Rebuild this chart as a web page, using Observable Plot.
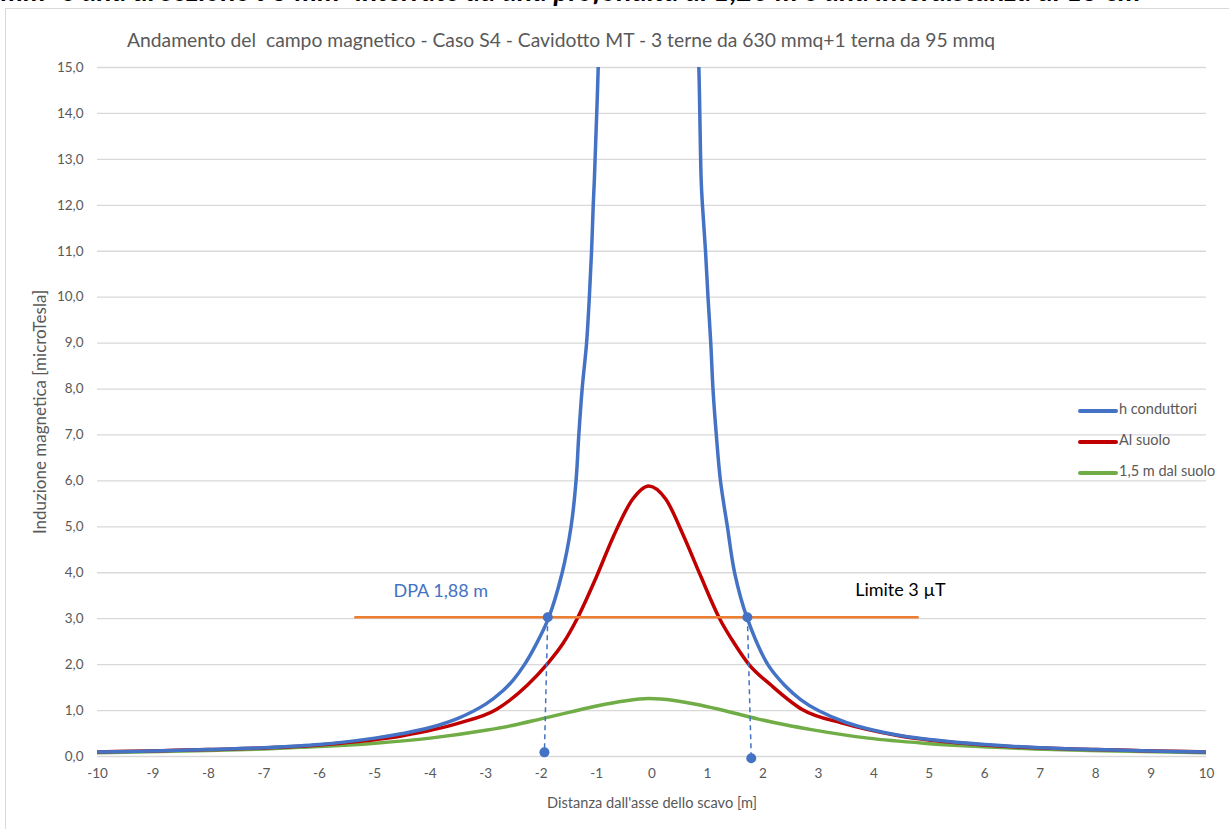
<!DOCTYPE html>
<html><head><meta charset="utf-8">
<script src="https://cdn.jsdelivr.net/npm/d3@7"></script>
<script src="https://cdn.jsdelivr.net/npm/@observablehq/plot@0.6"></script>
<style>
body{margin:0;background:#fff;font-family:Lato,"Open Sans",sans-serif;}
#page{position:relative;width:1229px;height:829px;overflow:hidden;background:#fff}
#toptext{position:absolute;left:0;top:0;width:1229px;height:8px;overflow:hidden;}
#toptext span{position:absolute;left:1px;top:-24px;font:italic bold 28.3px/28px Lato,sans-serif;white-space:nowrap;color:#000}
#frame{position:absolute;left:5px;top:8px;width:1300px;height:900px;border-left:1.5px solid #d9d9d9;border-top:1.5px solid #d9d9d9;box-sizing:border-box}
#title{position:absolute;left:127px;top:28px;font-size:19.3px;color:#595959;white-space:pre}
#chart{position:absolute;left:0;top:0}
.leg{position:absolute;left:1078px;height:18px;font-size:14.5px;color:#595959;white-space:nowrap}
.leg i{position:absolute;left:0;top:8px;width:40px;height:4px;border-radius:2px}
.leg span{position:absolute;left:41px;top:-1px}
</style></head>
<body><div id="page">
<div id="frame"></div>
<div id="toptext"><span>mm² e una di sezione 95 mm² interrate ad una profondità di 1,20 m e una interdistanza di 15 cm</span></div>
<div id="title"></div>
<div id="chart"></div>
</div>
<script>
const titleText = "Andamento del  campo magnetico - Caso S4 - Cavidotto MT - 3 terne da 630 mmq+1 terna da 95 mmq";
const xLabel = "Distanza dall'asse dello scavo [m]";
const yLabel = "Induzione magnetica [microTesla]";
const xTicks = d3.range(-10, 11, 1);
const yTicks = d3.range(0, 16, 1);
const seriesNames = ["h conduttori", "Al suolo", "1,5 m dal suolo"];
const seriesColors = ["#4472C4", "#C00000", "#70AD47"];

// h conduttori (blue)
const blueX = [-10,-9,-8,-7,-6,-5,-4.5,-4,-3.5,-3,-2.7,-2.5,-2.3,-2.1,-1.87,-1.62,-1.46,-1.37,-1.32,-1.26,-1.18,-1.13,-1.09,-1.06,-1.04,-0.97,-0.9,-0.7,-0.1,0.5,0.75,0.845,0.887,0.91,0.965,1.01,1.06,1.10,1.16,1.235,1.36,1.49,1.72,2.09,2.4,2.68,3,3.5,4,4.5,5,6,7,8,9,10];
const blueY = [0.10,0.12,0.15,0.19,0.26,0.40,0.50,0.63,0.83,1.14,1.42,1.67,2.0,2.42,3.0,4.0,5.0,6.0,7.0,8.0,9.0,10.0,11.0,12.0,12.54,15.0,18.5,30,45,30,18.5,15.0,12.54,12.0,11.0,10.0,9.0,8.0,7.0,6.0,5.0,4.0,3.0,2.0,1.54,1.24,1.0,0.74,0.57,0.45,0.37,0.26,0.19,0.15,0.12,0.10];
// Al suolo (red)
const redX = [-10,-8,-6,-4.5,-3.5,-2.8,-2.25,-1.9,-1.6,-1.35,-1.0,-0.7,-0.35,-0.06,0.25,0.57,0.87,1.22,1.48,1.75,2.15,2.7,3.45,4.45,6,8,10];
const redY = [0.10,0.15,0.25,0.45,0.72,1.03,1.55,2.0,2.47,3.0,3.92,4.78,5.6,5.89,5.6,4.8,3.95,3.0,2.47,2.0,1.55,1.03,0.72,0.45,0.25,0.15,0.10];
// 1,5 m dal suolo (green)
const greenX = [-10,-8,-7,-6,-5,-4,-3,-2.5,-2,-1.5,-1,-0.5,-0.06,0.4,0.9,1.4,1.9,2.4,2.9,3.9,4.9,5.9,6.9,7.9,10];
const greenY = [0.08,0.13,0.165,0.215,0.29,0.40,0.57,0.68,0.82,0.96,1.10,1.21,1.26,1.22,1.11,0.97,0.82,0.69,0.58,0.40,0.29,0.215,0.165,0.13,0.08];

// Limite 3 µT line
const limitX = [-5.35, 4.79];
const limitY = [3.03, 3.03];
// DPA markers: top points on curve and bottom points
const dpaTopX = [-1.88, 1.72];
const dpaTopY = [3.03, 3.03];
const dpaBotX = [-1.94, 1.79];
const dpaBotY = [0.09, -0.04];
// annotations
const noteText = ["DPA 1,88 m", "Limite 3 µT"];
const noteX = [-3.81, 4.48];
const noteY = [3.6, 3.62];
const noteColor = ["#4472C4", "#000000"];

document.getElementById("title").textContent = titleText;

const toRows = (xs, ys) => xs.map((x, i) => ({x, y: ys[i]}));
const blue = toRows(blueX, blueY), red = toRows(redX, redY), green = toRows(greenX, greenY);
const limit = toRows(limitX, limitY);
const dpaLines = dpaTopX.map((x, i) => ({x1: x, y1: dpaTopY[i], x2: dpaBotX[i], y2: dpaBotY[i]}));
const dpaDots = [...toRows(dpaTopX, dpaTopY), ...toRows(dpaBotX, dpaBotY)];
const notes = noteText.map((t, i) => ({t, x: noteX[i], y: noteY[i], c: noteColor[i]}));

const plot = Plot.plot({
  width: 1229, height: 829,
  marginLeft: 97, marginRight: 23, marginTop: 67, marginBottom: 73,
  style: {fontFamily: "Lato, 'Open Sans', sans-serif", fontSize: "13.5px", color: "#595959", background: "transparent", overflow: "visible"},
  x: {domain: [-10, 10], ticks: xTicks, tickFormat: d => String(d), tickSize: 0, tickPadding: 12, label: null},
  y: {domain: [0, 15], ticks: yTicks, tickFormat: d => d.toFixed(1).replace(".", ","), tickSize: 0, tickPadding: 14, label: null},
  marks: [
    Plot.gridY(yTicks, {stroke: "#d9d9d9", strokeOpacity: 1, strokeWidth: 1.3}),
    Plot.line(green, {x: "x", y: "y", stroke: seriesColors[2], strokeWidth: 3.5, curve: "monotone-x", clip: true}),
    Plot.line(red, {x: "x", y: "y", stroke: seriesColors[1], strokeWidth: 3.5, curve: "monotone-x", clip: true}),
    Plot.line(blue, {x: "x", y: "y", stroke: seriesColors[0], strokeWidth: 3.5, curve: "catmull-rom", clip: true}),
    Plot.line(limit, {x: "x", y: "y", stroke: "#ED7D31", strokeWidth: 2.5}),
    Plot.link(dpaLines, {x1: "x1", y1: "y1", x2: "x2", y2: "y2", stroke: "#4472C4", strokeWidth: 1.5, strokeDasharray: "5,4"}),
    Plot.dot(dpaDots, {x: "x", y: "y", r: 5, fill: "#4472C4", stroke: "none"}),
    Plot.text(notes, {x: "x", y: "y", text: "t", fill: "c", fontSize: 18}),
    Plot.text([xLabel], {frameAnchor: "bottom", textAnchor: "middle", dy: 51, fontSize: 14.6, fill: "#595959"}),
    Plot.text([yLabel], {frameAnchor: "left", textAnchor: "middle", dx: -57, rotate: -90, fontSize: 17, fill: "#595959"})
  ]
});
document.getElementById("chart").appendChild(plot);

const page = document.getElementById("page");
const legTop = [401, 432, 463];
seriesNames.forEach((n, i) => {
  const d = document.createElement("div");
  d.className = "leg";
  d.style.top = legTop[i] + "px";
  d.innerHTML = `<i style="background:${seriesColors[i]}"></i><span>${n}</span>`;
  page.appendChild(d);
});
</script>
</body></html>
